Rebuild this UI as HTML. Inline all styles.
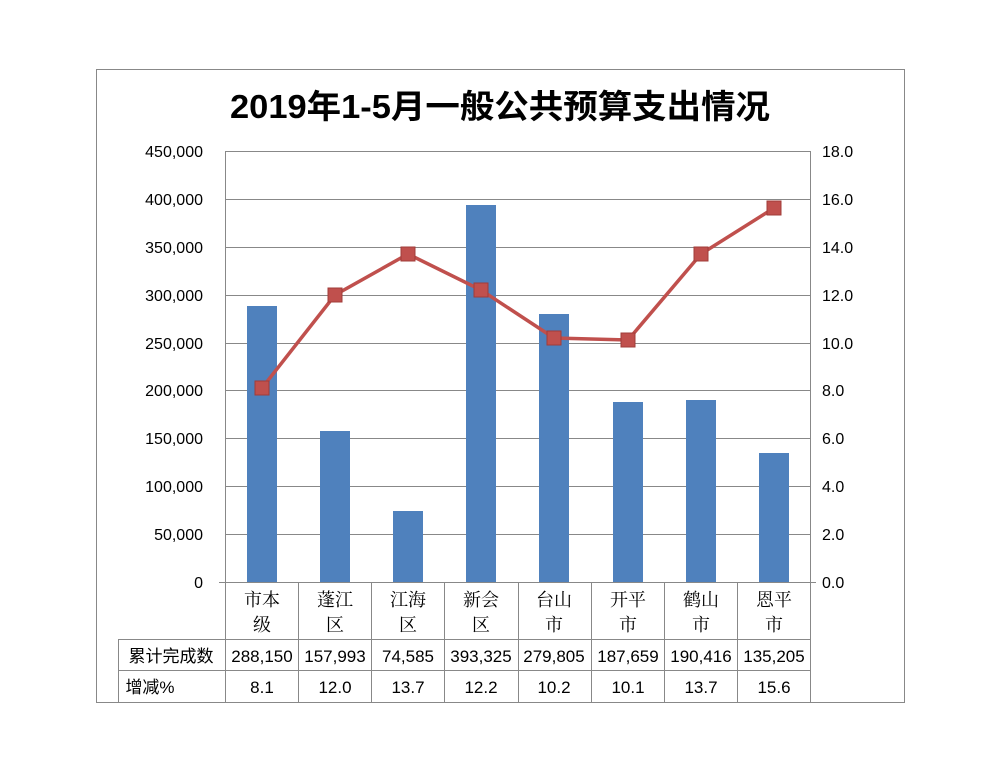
<!DOCTYPE html><html><head><meta charset="utf-8"><style>body{margin:0;background:#fff}</style></head><body>
<svg width="1000" height="772" xmlns="http://www.w3.org/2000/svg" font-family="Liberation Sans, Noto Sans CJK SC, sans-serif">
<rect x="96.5" y="69.5" width="808" height="633" fill="#fff" stroke="#888"/>
<text x="500" y="118" text-anchor="middle" font-size="33" font-weight="bold" textLength="540" lengthAdjust="spacingAndGlyphs">2019年1-5月一般公共预算支出情况</text>
<g stroke="#888" stroke-width="1">
<line x1="225" y1="151.5" x2="810" y2="151.5"/><line x1="225" y1="199.5" x2="810" y2="199.5"/><line x1="225" y1="247.5" x2="810" y2="247.5"/><line x1="225" y1="295.5" x2="810" y2="295.5"/><line x1="225" y1="343.5" x2="810" y2="343.5"/><line x1="225" y1="390.5" x2="810" y2="390.5"/><line x1="225" y1="438.5" x2="810" y2="438.5"/><line x1="225" y1="486.5" x2="810" y2="486.5"/><line x1="225" y1="534.5" x2="810" y2="534.5"/>
<line x1="219" y1="582.5" x2="816" y2="582.5"/>
<line x1="225.5" y1="151" x2="225.5" y2="702"/><line x1="810.5" y1="151" x2="810.5" y2="702"/>
<line x1="298.5" y1="582" x2="298.5" y2="702"/><line x1="371.5" y1="582" x2="371.5" y2="702"/><line x1="444.5" y1="582" x2="444.5" y2="702"/><line x1="518.5" y1="582" x2="518.5" y2="702"/><line x1="591.5" y1="582" x2="591.5" y2="702"/><line x1="664.5" y1="582" x2="664.5" y2="702"/><line x1="737.5" y1="582" x2="737.5" y2="702"/>
<line x1="118" y1="639.5" x2="810" y2="639.5"/><line x1="118" y1="670.5" x2="810" y2="670.5"/>
<line x1="118.5" y1="639" x2="118.5" y2="702"/>
</g>
<g fill="#4F81BD">
<rect x="247" y="306" width="30" height="276"/><rect x="320" y="431" width="30" height="151"/><rect x="393" y="511" width="30" height="71"/><rect x="466" y="205" width="30" height="377"/><rect x="539" y="314" width="30" height="268"/><rect x="613" y="402" width="30" height="180"/><rect x="686" y="400" width="30" height="182"/><rect x="759" y="453" width="30" height="129"/>
</g>
<polyline fill="none" stroke="#C0504D" stroke-width="3.5" points="262,388 335,295 408,254 481,290 554,338 628,340 701,254 774,208"/>
<g fill="#C0504D" stroke="#A03c39" stroke-width="1">
<rect x="255" y="381" width="14" height="14"/><rect x="328" y="288" width="14" height="14"/><rect x="401" y="247" width="14" height="14"/><rect x="474" y="283" width="14" height="14"/><rect x="547" y="331" width="14" height="14"/><rect x="621" y="333" width="14" height="14"/><rect x="694" y="247" width="14" height="14"/><rect x="767" y="201" width="14" height="14"/>
</g>
<g font-size="16" text-anchor="end">
<text x="203" y="157">450,000</text><text x="203" y="205">400,000</text><text x="203" y="253">350,000</text><text x="203" y="301">300,000</text><text x="203" y="349">250,000</text><text x="203" y="396">200,000</text><text x="203" y="444">150,000</text><text x="203" y="492">100,000</text><text x="203" y="540">50,000</text><text x="203" y="588">0</text>
</g>
<g font-size="16">
<text x="822" y="157">18.0</text><text x="822" y="205">16.0</text><text x="822" y="253">14.0</text><text x="822" y="301">12.0</text><text x="822" y="349">10.0</text><text x="822" y="396">8.0</text><text x="822" y="444">6.0</text><text x="822" y="492">4.0</text><text x="822" y="540">2.0</text><text x="822" y="588">0.0</text>
</g>
<g font-size="18" text-anchor="middle" font-family="Noto Serif CJK SC, serif">
<text x="262" y="606">市本</text><text x="262" y="631">级</text>
<text x="335" y="606">蓬江</text><text x="335" y="631">区</text>
<text x="408" y="606">江海</text><text x="408" y="631">区</text>
<text x="481" y="606">新会</text><text x="481" y="631">区</text>
<text x="554" y="606">台山</text><text x="554" y="631">市</text>
<text x="628" y="606">开平</text><text x="628" y="631">市</text>
<text x="701" y="606">鹤山</text><text x="701" y="631">市</text>
<text x="774" y="606">恩平</text><text x="774" y="631">市</text>
</g>
<g font-size="17" text-anchor="middle">
<text x="171" y="662">累计完成数</text>
<text x="262" y="662">288,150</text><text x="335" y="662">157,993</text><text x="408" y="662">74,585</text><text x="481" y="662">393,325</text><text x="554" y="662">279,805</text><text x="628" y="662">187,659</text><text x="701" y="662">190,416</text><text x="774" y="662">135,205</text>
<text x="150" y="693">增减%</text>
<text x="262" y="693">8.1</text><text x="335" y="693">12.0</text><text x="408" y="693">13.7</text><text x="481" y="693">12.2</text><text x="554" y="693">10.2</text><text x="628" y="693">10.1</text><text x="701" y="693">13.7</text><text x="774" y="693">15.6</text>
</g>
</svg>
</body></html>
